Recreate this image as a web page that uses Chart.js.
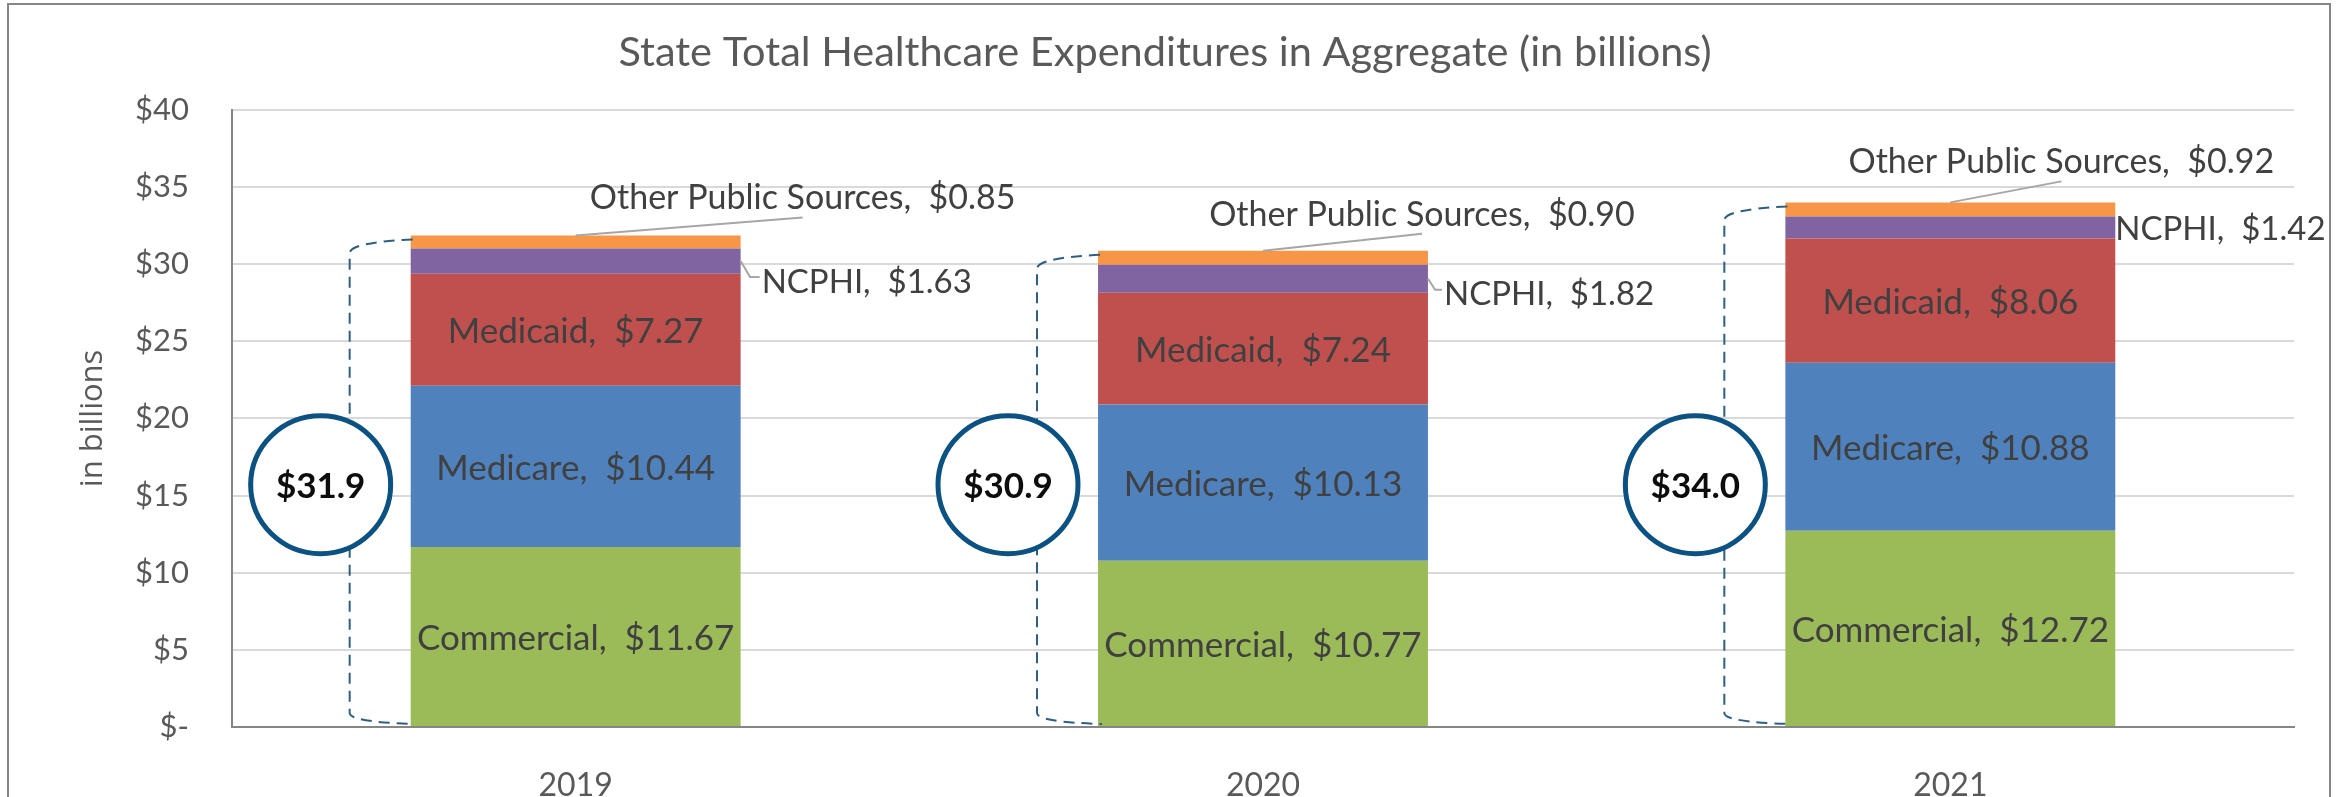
<!DOCTYPE html>
<html>
<head>
<meta charset="utf-8">
<title>State Total Healthcare Expenditures</title>
<script src="https://cdn.jsdelivr.net/npm/chart.js@4.4.1/dist/chart.umd.min.js"></script>
<style>
  body { margin: 0; background: #fff; }
  #wrap { width: 2349px; height: 797px; }
</style>
</head>
<body>
<div id="wrap"><canvas id="chart" width="2349" height="797"></canvas></div>
<script>
const years = ['2019', '2020', '2021'];
const commercial = [11.67, 10.77, 12.72];
const medicare = [10.44, 10.13, 10.88];
const medicaid = [7.27, 7.24, 8.06];
const ncphi = [1.63, 1.82, 1.42];
const otherPublic = [0.85, 0.90, 0.92];
const yTicks = [0, 5, 10, 15, 20, 25, 30, 35, 40];

// hand placed labels in the original (pixel shifts, one per year)
const otherLabelShift = [[227, -39], [159, -38], [111, -42]];
const ncphiLabelShift = [[21, 19], [16, 14], [0, 0]];

const FONT = 'Lato, "Liberation Sans", sans-serif';
const TXT = '#404040';

const totals = years.map((y, i) => commercial[i] + medicare[i] + medicaid[i] + ncphi[i] + otherPublic[i]);

function money(v) {
  return '$' + v.toFixed(2);
}

const overlay = {
  id: 'overlay',
  beforeDraw(chart) {
    const ctx = chart.ctx;
    ctx.save();
    ctx.fillStyle = '#fff';
    ctx.fillRect(0, 0, chart.width, chart.height);
    ctx.strokeStyle = '#868686';
    ctx.lineWidth = 2;
    ctx.strokeRect(8, 4, 2322, 840);
    ctx.restore();
  },
  afterDatasetsDraw(chart) {
    const ctx = chart.ctx;
    const xs = chart.scales.x, ys = chart.scales.y;
    ctx.save();

    // labels inside the three big segments
    ctx.font = '35px ' + FONT;
    ctx.fillStyle = TXT;
    ctx.textAlign = 'center';
    ctx.textBaseline = 'middle';
    for (let d = 0; d < 3; d++) {
      const ds = chart.data.datasets[d];
      chart.getDatasetMeta(d).data.forEach((el, i) => {
        const p = el.getCenterPoint();
        ctx.fillText(ds.label + ',  ' + money(ds.data[i]), p.x, p.y + 2);
      });
    }

    // NCPHI labels to the right of the bar
    ctx.font = '33px ' + FONT;
    const ncMeta = chart.getDatasetMeta(3);
    ctx.textAlign = 'left';
    ncMeta.data.forEach((el, i) => {
      const right = el.x + el.width / 2;
      const mid = (el.y + el.base) / 2;
      const dx = ncphiLabelShift[i][0], dy = ncphiLabelShift[i][1];
      if (dx > 4) {
        ctx.strokeStyle = '#A6A6A6';
        ctx.lineWidth = 2;
        ctx.beginPath();
        ctx.moveTo(right, mid);
        ctx.lineTo(right + dx * 0.45, mid + dy - 3);
        ctx.lineTo(right + dx - 2, mid + dy - 3);
        ctx.stroke();
      }
      ctx.fillStyle = TXT;
      ctx.fillText('NCPHI,  ' + money(ncphi[i]), right + dx, mid + dy + 2);
    });

    // Other Public Sources labels above the bar
    ctx.font = '34px ' + FONT;
    const otMeta = chart.getDatasetMeta(4);
    ctx.textAlign = 'center';
    otMeta.data.forEach((el, i) => {
      const dx = otherLabelShift[i][0], dy = otherLabelShift[i][1];
      ctx.strokeStyle = '#A6A6A6';
      ctx.lineWidth = 2;
      ctx.beginPath();
      ctx.moveTo(el.x, el.y);
      ctx.lineTo(el.x + dx, el.y + dy + 21);
      ctx.stroke();
      ctx.fillStyle = TXT;
      ctx.fillText('Other Public Sources,  ' + money(otherPublic[i]), el.x + dx, el.y + dy + 2);
    });

    // dashed brackets and total circles
    const zero = ys.getPixelForValue(0);
    otMeta.data.forEach((el, i) => {
      const left = el.x - el.width / 2;
      const bx = xs.getPixelForValue(i) - 226;
      const top = el.y + 4;
      ctx.strokeStyle = '#2E5F80';
      ctx.lineWidth = 2;
      ctx.setLineDash([11, 7]);
      ctx.beginPath();
      ctx.moveTo(left + 2, top);
      ctx.quadraticCurveTo(bx, top + 3, bx, top + 14);
      ctx.lineTo(bx, zero - 14);
      ctx.quadraticCurveTo(bx, zero - 5, left + 4, zero - 3);
      ctx.stroke();
      ctx.setLineDash([]);

      const cx = xs.getPixelForValue(i) - 255;
      const cy = ys.getPixelForValue(15.7);
      ctx.beginPath();
      ctx.ellipse(cx, cy, 70, 69, 0, 0, Math.PI * 2);
      ctx.fillStyle = '#fff';
      ctx.fill();
      ctx.lineWidth = 5;
      ctx.strokeStyle = '#0B5181';
      ctx.stroke();
      ctx.fillStyle = '#0D0D0D';
      ctx.font = 'bold 35px ' + FONT;
      ctx.fillText('$' + totals[i].toFixed(1), cx, cy + 2);
    });

    ctx.restore();
  }
};

new Chart(document.getElementById('chart'), {
  type: 'bar',
  data: {
    labels: years,
    datasets: [
      { label: 'Commercial', data: commercial, backgroundColor: '#9BBB59' },
      { label: 'Medicare', data: medicare, backgroundColor: '#4F81BD' },
      { label: 'Medicaid', data: medicaid, backgroundColor: '#C0504D' },
      { label: 'NCPHI', data: ncphi, backgroundColor: '#8064A2' },
      { label: 'Other Public Sources', data: otherPublic, backgroundColor: '#F79646' }
    ]
  },
  options: {
    responsive: false,
    animation: false,
    layout: { padding: { left: 36, right: 55, top: 0, bottom: 0 } },
    datasets: { bar: { categoryPercentage: 1, barPercentage: 0.48, borderWidth: 0 } },
    plugins: {
      legend: { display: false },
      tooltip: { enabled: false },
      title: {
        display: true,
        text: 'State Total Healthcare Expenditures in Aggregate (in billions)',
        color: '#595959',
        font: { family: FONT, size: 41.5, weight: 'normal' },
        padding: { top: 28, bottom: 32 }
      }
    },
    scales: {
      x: {
        stacked: true,
        grid: { display: false },
        border: { color: '#868686', width: 2 },
        ticks: { color: '#595959', padding: 31, font: { family: FONT, size: 32 } },
        afterFit: s => { s.height = 70; }
      },
      y: {
        stacked: true,
        min: 0,
        max: 40,
        afterBuildTicks: s => { s.ticks = yTicks.map(v => ({ value: v })); },
        grid: { color: '#D9D9D9', lineWidth: 2, drawTicks: false },
        border: { color: '#868686', width: 2 },
        ticks: {
          color: '#595959',
          padding: 43,
          font: { family: FONT, size: 31 },
          callback: v => v === 0 ? '$-' : '$' + v
        },
        title: {
          display: true,
          text: 'in billions',
          color: '#595959',
          font: { family: '"Open Sans", sans-serif', size: 31 },
          padding: { top: 39, bottom: 0 }
        },
        afterFit: s => { s.width = 196; }
      }
    }
  },
  plugins: [overlay]
});
</script>
</body>
</html>
